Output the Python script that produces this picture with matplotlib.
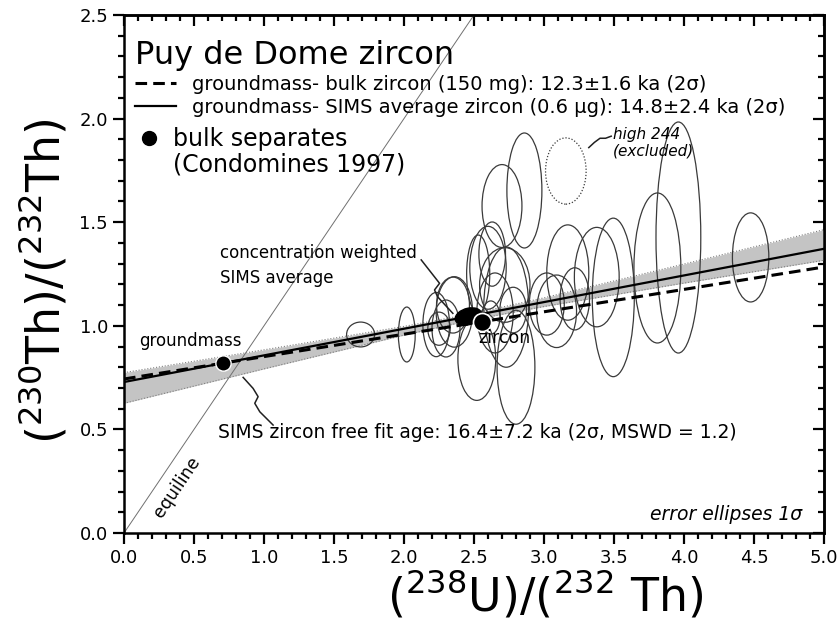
import numpy as np
import matplotlib
matplotlib.use("Agg")
import matplotlib.pyplot as plt
from matplotlib.patches import Ellipse
from matplotlib.lines import Line2D
from matplotlib.ticker import MultipleLocator

plt.rcParams['font.family'] = ['DejaVu Sans']
plt.rcParams['mathtext.default'] = 'regular'

# bulk separates (Condomines 1997)
GROUNDMASS = (0.71, 0.82)
BULK_ZIRCON = (2.56, 1.02)
# concentration weighted SIMS average (x, y, w, h, angle)
SIMS_AVG = (2.46, 1.045, 0.19, 0.08, 8)

# SIMS spot error ellipses (1 sigma): centre x, centre y, width, height
ELL_X = [1.69, 2.02, 2.86, 2.70, 3.96, 3.81, 4.476, 3.495, 3.377, 3.17, 3.22,
         3.02, 3.09, 2.80, 2.52, 2.53, 2.63, 2.73, 2.72, 2.23, 2.36, 2.30,
         2.65, 2.78, 2.62, 2.25, 2.35, 2.60]
ELL_Y = [0.958, 0.958, 1.653, 1.578, 1.426, 1.279, 1.33, 1.137, 1.235, 1.257,
         1.13, 1.105, 1.07, 0.80, 0.84, 1.25, 1.346, 1.09, 1.197, 1.006, 1.067,
         0.987, 1.062, 1.076, 1.04, 0.986, 1.10, 1.28]
ELL_W = [0.20, 0.12, 0.25, 0.285, 0.32, 0.335, 0.26, 0.30, 0.32, 0.30, 0.21,
         0.25, 0.285, 0.27, 0.27, 0.165, 0.19, 0.32, 0.36, 0.19, 0.26, 0.20,
         0.26, 0.19, 0.13, 0.16, 0.235, 0.26]
ELL_H = [0.12, 0.265, 0.555, 0.40, 1.115, 0.724, 0.43, 0.765, 0.48, 0.46, 0.30,
         0.30, 0.35, 0.55, 0.40, 0.376, 0.31, 0.58, 0.36, 0.31, 0.34, 0.275,
         0.386, 0.22, 0.16, 0.16, 0.27, 0.40]
# high 244 spot, excluded
EXCL = (3.156, 1.747, 0.29, 0.32)

# SIMS free fit isochron envelope
BAND_X = [0.0, 1.0, 2.0, 2.5, 3.0, 4.0, 5.0]
BAND_LO = [0.626, 0.792, 0.955, 1.030, 1.093, 1.206, 1.316]
BAND_HI = [0.774, 0.884, 0.997, 1.060, 1.135, 1.298, 1.464]

# leader lines
LEAD_AVG_X = [2.123, 2.254, 2.218, 2.240, 2.349]
LEAD_AVG_Y = [1.318, 1.205, 1.173, 1.140, 1.060]
LEAD_FIT_X = [0.851, 0.922, 0.958, 0.934, 0.970, 1.065]
LEAD_FIT_Y = [0.751, 0.698, 0.658, 0.626, 0.585, 0.521]
LEAD_EXC_X = [3.32, 3.36, 3.40, 3.44, 3.48]
LEAD_EXC_Y = [1.86, 1.885, 1.905, 1.905, 1.915]

fig = plt.figure(figsize=(8.39, 6.29), dpi=100)
ax = fig.add_axes([0.1478, 0.1526, 0.8343, 0.8236])
ax.set_xlim(0, 5)
ax.set_ylim(0, 2.5)

# gray envelope of the free fit
ax.fill_between(BAND_X, BAND_LO, BAND_HI, color='#c4c4c4', lw=0, zorder=1)
ax.plot(BAND_X, BAND_LO, color='#808080', lw=0.8, ls=':', zorder=1.5)
ax.plot(BAND_X, BAND_HI, color='#808080', lw=0.8, ls=':', zorder=1.5)

# equiline
ax.plot([0, 2.5], [0, 2.5], color='#707070', lw=0.7, zorder=1.2)

for x, y, w, h in zip(ELL_X, ELL_Y, ELL_W, ELL_H):
    ax.add_patch(Ellipse((x, y), w, h, fill=False, ec='#3a3a3a', lw=0.9, zorder=2))
ax.add_patch(Ellipse(EXCL[:2], EXCL[2], EXCL[3], fill=False, ec='#3a3a3a',
                     lw=0.9, ls=(0, (1, 1.5)), zorder=2))

# isochrons through groundmass
xs = np.array([0.0, 5.0])
b_bulk = (BULK_ZIRCON[1] - GROUNDMASS[1]) / (BULK_ZIRCON[0] - GROUNDMASS[0])
b_sims = (SIMS_AVG[1] - GROUNDMASS[1]) / (SIMS_AVG[0] - GROUNDMASS[0])
dashed, = ax.plot(xs, GROUNDMASS[1] + b_bulk * (xs - GROUNDMASS[0]), color='black',
                  lw=2.2, ls=(0, (3.8, 2)), zorder=3)
solid, = ax.plot(xs, GROUNDMASS[1] + b_sims * (xs - GROUNDMASS[0]), color='black',
                 lw=1.6, zorder=3)

ax.add_patch(Ellipse(SIMS_AVG[:2], SIMS_AVG[2], SIMS_AVG[3], angle=SIMS_AVG[4],
                     color='black', zorder=4))
ax.plot(*GROUNDMASS, 'o', color='black', ms=11, mec='white', mew=1, zorder=5)
ax.plot(*BULK_ZIRCON, 'o', color='black', ms=13, mec='white', mew=1.2, zorder=5)

# leaders and labels
ax.plot(LEAD_AVG_X, LEAD_AVG_Y, color='#202020', lw=1.1, zorder=4)
ax.plot(LEAD_FIT_X, LEAD_FIT_Y, color='#202020', lw=1.1, zorder=4)
ax.plot(LEAD_EXC_X, LEAD_EXC_Y, color='#202020', lw=1.1, zorder=4)

ax.text(0.11, 0.925, 'groundmass', fontsize=12, va='center', zorder=6)
ax.text(2.72, 0.94, 'zircon', fontsize=12.5, ha='center', va='center', zorder=6)
ax.text(0.685, 1.291, 'concentration weighted\nSIMS average', fontsize=12,
        va='center', linespacing=1.5)
ax.text(0.67, 0.487, 'SIMS zircon free fit age: 16.4\u00b17.2 ka (2\u03c3, MSWD = 1.2)',
        fontsize=13.5, va='center')
ax.text(3.49, 1.882, 'high 244\n(excluded)', fontsize=11, style='italic',
        va='center', linespacing=1.15)
ax.text(4.843, 0.087, 'error ellipses 1\u03c3', fontsize=13.5, style='italic',
        ha='right', va='center')
ax.text(0.378, 0.222, 'equiline', fontsize=12.5, rotation=56, ha='center',
        va='center', rotation_mode='anchor')

# legend
leg1 = ax.legend([dashed, solid],
                 ['groundmass- bulk zircon (150 mg): 12.3\u00b11.6 ka (2\u03c3)',
                  'groundmass- SIMS average zircon (0.6 \u03bcg): 14.8\u00b12.4 ka (2\u03c3)'],
                 title='Puy de Dome zircon', title_fontsize=23, fontsize=14,
                 loc='upper left', bbox_to_anchor=(0.0157, 0.952), frameon=False,
                 alignment='left', handlelength=2.1, handletextpad=0.85,
                 labelspacing=0.2, borderpad=0, borderaxespad=0)
ax.add_artist(leg1)
dot = Line2D([], [], marker='o', color='black', ls='none', ms=10)
blank = Line2D([], [], ls='none')
ax.legend([dot, blank], ['bulk separates', '(Condomines 1997)'], fontsize=17,
          loc='upper left', bbox_to_anchor=(0.0228, 0.784), frameon=False,
          handlelength=0.8, handletextpad=0.6, labelspacing=0.05,
          borderpad=0, borderaxespad=0)

# axes, ticks
for s in ax.spines.values():
    s.set_linewidth(1.8)
ax.xaxis.set_major_locator(MultipleLocator(0.5))
ax.xaxis.set_minor_locator(MultipleLocator(0.1))
ax.yaxis.set_major_locator(MultipleLocator(0.5))
ax.yaxis.set_minor_locator(MultipleLocator(0.1))
ax.xaxis.set_major_formatter('{x:.1f}')
ax.yaxis.set_major_formatter('{x:.1f}')
ax.tick_params(which='both', direction='out', width=1.6, labelsize=13)
ax.tick_params(which='major', length=8)
ax.tick_params(which='minor', length=4.5)

top = ax.secondary_xaxis('top')
right = ax.secondary_yaxis('right')
for sec, axis in ((top, top.xaxis), (right, right.yaxis)):
    axis.set_major_locator(MultipleLocator(0.5))
    axis.set_minor_locator(MultipleLocator(0.1))
    sec.tick_params(which='both', direction='in', width=1.6, labelsize=0)
    sec.tick_params(which='major', length=8)
    sec.tick_params(which='minor', length=4.5)
    for s in sec.spines.values():
        s.set_linewidth(1.8)
top.set_xticklabels([])
right.set_yticklabels([])

ax.set_xlabel(r'$(^{238}U)/(^{232}\ Th)$', fontsize=33)
ax.xaxis.set_label_coords(0.602, -0.068)
ax.set_ylabel(r'$(^{230}Th)/(^{232}Th)$', fontsize=33)
ax.yaxis.set_label_coords(-0.078, 0.485)

fig.savefig('out.png', dpi=100)
